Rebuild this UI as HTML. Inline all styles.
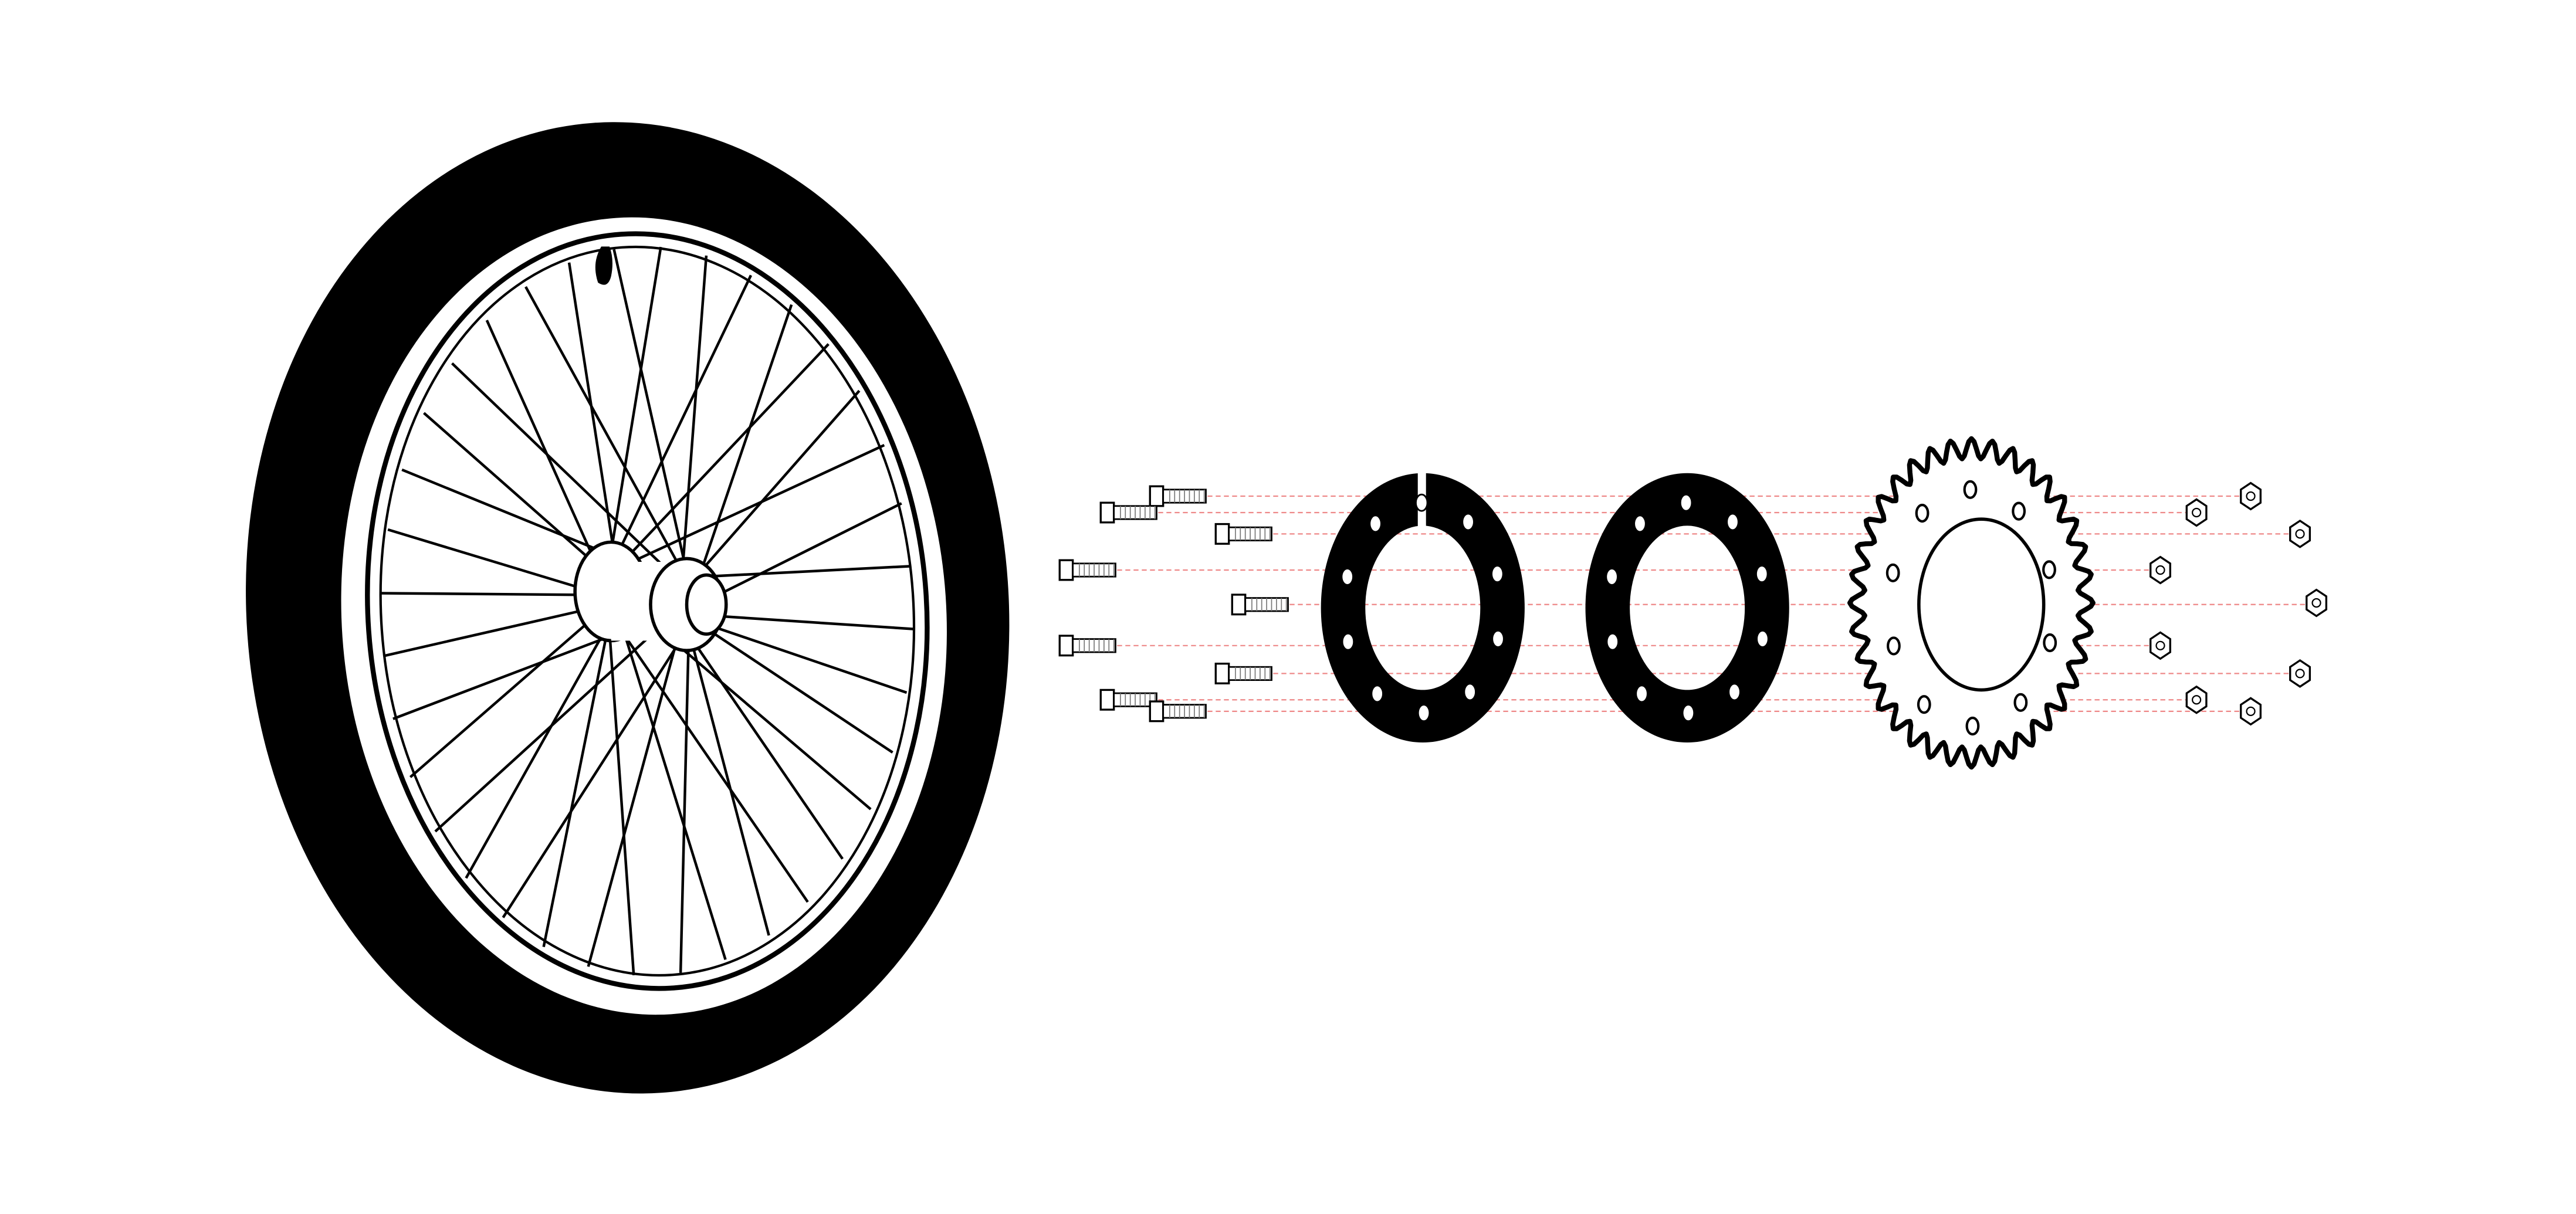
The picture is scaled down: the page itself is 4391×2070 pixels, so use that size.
<!DOCTYPE html>
<html><head><meta charset="utf-8"><style>
html,body{margin:0;padding:0;background:#fff;}
svg{display:block;}
</style></head><body>
<svg id="s" width="4391" height="2070" viewBox="0 0 1568 739" xmlns="http://www.w3.org/2000/svg">
<rect width="1568" height="739" fill="#fff"/>
<g id="wheel">
  <ellipse cx="382" cy="370" rx="232" ry="296" fill="#000" transform="rotate(-4 382 370)"/>
  <ellipse cx="392" cy="375" rx="184" ry="243" fill="#fff" transform="rotate(-4 392 375)"/>
  <ellipse cx="394" cy="372" rx="170" ry="230" fill="none" stroke="#000" stroke-width="3" transform="rotate(-4 394 372)"/>
  <ellipse cx="394" cy="372" rx="162" ry="222" fill="none" stroke="#000" stroke-width="1.5" transform="rotate(-4 394 372)"/>
  <path d="M366 150 q-6 10 -2 22 q6 4 8 -4 q2 -10 -1 -18z" fill="#000"/>
  <g id="spokes"></g>
  <ellipse cx="372" cy="360" rx="22" ry="30" fill="#fff" stroke="#000" stroke-width="2"/>
  <rect x="372" y="342" width="40" height="48" fill="#fff" stroke="none"/>
  <ellipse cx="418" cy="368" rx="22" ry="28" fill="#fff" stroke="#000" stroke-width="2"/>
  <ellipse cx="430" cy="368" rx="12" ry="18" fill="#fff" stroke="#000" stroke-width="2"/>
</g>
<g id="lines"></g>
<g id="plate1">
  <path fill="#000" fill-rule="evenodd" d="M866 288 a62 82 0 1 0 0.1 0 z M866 320 a35 50 0 1 0 0.1 0 z"/>
  <rect x="863" y="284" width="5" height="38" fill="#fff"/>
</g>
<g id="plate2">
  <path fill="#000" fill-rule="evenodd" d="M1027 288 a62 82 0 1 0 0.1 0 z M1027 320 a35 50 0 1 0 0.1 0 z"/>
</g>
<g id="sprocket">
  <path id="sprk" fill="#fff" stroke="#000" stroke-width="3" stroke-linejoin="round"/>
  <ellipse cx="1206" cy="368" rx="38" ry="52" fill="#fff" stroke="#000" stroke-width="2"/>
</g>
<g id="holes"></g>
<g id="bolts"></g>
<g id="nuts"></g>
</svg>
<script>
var NS="http://www.w3.org/2000/svg";
function mk(t,a,p){var e=document.createElementNS(NS,t);for(var k in a)e.setAttribute(k,a[k]);p.appendChild(e);return e;}
var sp=document.getElementById('spokes');
for(var i=0;i<36;i++){
  var a=i/36*Math.PI*2+0.05;
  var hx=(i%2?372:418)+(i%4<2?6:-6)*Math.cos(a), hy=(i%2?360:368)+14*Math.sin(a);
  var b=a+(i%2?0.35:-0.35);
  var rx=394+162*Math.cos(b), ry=372+222*Math.sin(b);
  var l=mk('line',{x1:hx,y1:hy,x2:rx,y2:ry,stroke:'#000','stroke-width':1.6},sp);
  
  
}
var d='',N=36,M=N*8;
for(var i=0;i<=M;i++){
  var a=i/M*Math.PI*2; var r=0.94+0.06*Math.cos(i/8*Math.PI*2);
  var x=1200+74*r*Math.cos(a), y=367+100*r*Math.sin(a);
  d+=(i?'L':'M')+x.toFixed(1)+' '+y.toFixed(1);
}
document.getElementById('sprk').setAttribute('d',d+'Z');
var hg=document.getElementById('holes');
[[866,false],[1027,false],[1200,true]].forEach(function(c){
  for(var i=0;i<10;i++){
    var a=i/10*Math.PI*2+0.3;
    var h=mk('ellipse',{cx:c[0]+(c[1]?50:48)*Math.cos(a),cy:370+(c[1]?72:64)*Math.sin(a),rx:3.5,ry:5,fill:'#fff',stroke:'#000','stroke-width':c[1]?1.5:1},hg);
    
    
  }
});
var B=[[700,302],[670,312],[740,325],[645,347],[750,368],[645,393],[740,410],[670,426],[700,433]];
var Nn=[[1370,302],[1337,312],[1400,325],[1315,347],[1410,367],[1315,393],[1400,410],[1337,426],[1370,433]];
var lg=document.getElementById('lines'),bg=document.getElementById('bolts'),ng=document.getElementById('nuts');
B.forEach(function(b,i){
  var n=Nn[i];
  var l=mk('line',{x1:b[0]+30,y1:b[1],x2:n[0],y2:b[1],stroke:'#e88',"stroke-width":0.8,"stroke-dasharray":"3 2"},lg);
  
  
  var g=mk('g',{},bg);
  
  
  mk('rect',{x:b[0],y:b[1]-6,width:8,height:12,fill:'#fff',stroke:'#000','stroke-width':1.2},g);
  mk('rect',{x:b[0]+8,y:b[1]-4,width:26,height:8,fill:'#fff',stroke:'#000','stroke-width':1},g);
  for(var k=0;k<8;k++) mk('line',{x1:b[0]+12+k*3,y1:b[1]-4,x2:b[0]+12+k*3,y2:b[1]+4,stroke:'#777','stroke-width':0.6},g);
  var ng2=mk('g',{},ng);
  
  
  mk('polygon',{points:[[-6,-4],[0,-8],[6,-4],[6,4],[0,8],[-6,4]].map(function(p){return (n[0]+p[0])+','+(n[1]+p[1]);}).join(' '),fill:'#fff',stroke:'#000','stroke-width':1.2},ng2);
  mk('circle',{cx:n[0],cy:n[1],r:2.5,fill:'none',stroke:'#000','stroke-width':0.8},ng2);
});
</script>
</body></html>
